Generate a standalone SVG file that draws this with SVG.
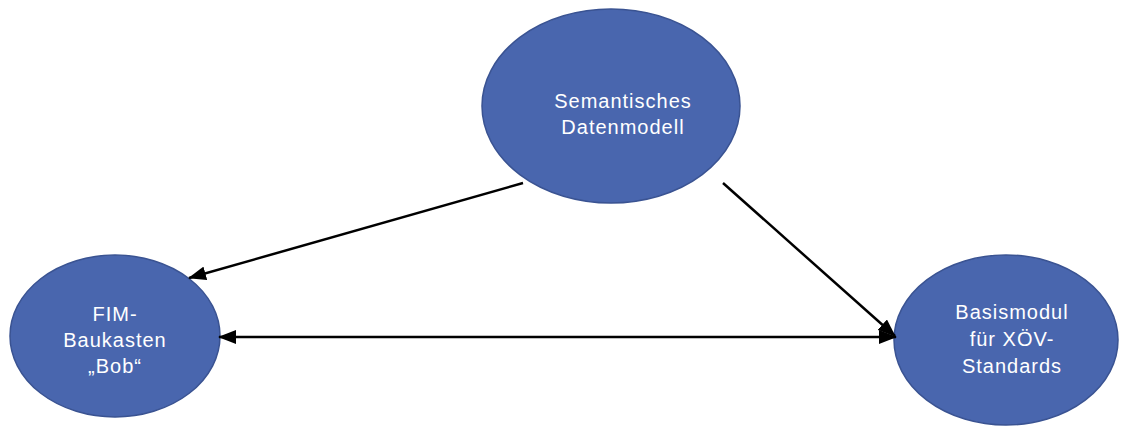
<svg xmlns="http://www.w3.org/2000/svg" width="1122" height="426" viewBox="0 0 1122 426">
<style>
.node{fill:#4966AE;stroke:#3A5392;stroke-width:1.5}
.lbl{font-family:"Liberation Sans",Arial,sans-serif;font-size:20px;letter-spacing:1px;fill:#ffffff;text-anchor:middle}
.edge{stroke:#000;stroke-width:2.5;fill:none}
</style>
<defs>
<marker id="ah" markerUnits="userSpaceOnUse" markerWidth="18" markerHeight="14" refX="17" refY="7" orient="auto-start-reverse">
<path d="M0,0 L18,7 L0,14 Z" fill="#000"/>
</marker>
</defs>
<rect width="1122" height="426" fill="#fff"/>
<g id="n-semantic">
<ellipse class="node" cx="611" cy="106" rx="129" ry="97"/>
<text class="lbl" x="623" y="108">Semantisches</text>
<text class="lbl" x="623" y="134">Datenmodell</text>
</g>
<g id="n-fim">
<ellipse class="node" cx="115" cy="336" rx="105" ry="81"/>
<text class="lbl" x="115" y="321">FIM-</text>
<text class="lbl" x="115" y="347">Baukasten</text>
<text class="lbl" x="115" y="373">„Bob“</text>
</g>
<g id="n-basis">
<ellipse class="node" cx="1006" cy="340" rx="112" ry="85"/>
<text class="lbl" x="1012" y="319">Basismodul</text>
<text class="lbl" x="1012" y="346">für XÖV-</text>
<text class="lbl" x="1012" y="373">Standards</text>
</g>
<g id="connectors">
<line class="edge" x1="523" y1="183" x2="189" y2="278" marker-end="url(#ah)"/>
<line class="edge" x1="723" y1="183" x2="895" y2="336" marker-end="url(#ah)"/>
<line class="edge" x1="219" y1="337" x2="896" y2="337" marker-start="url(#ah)" marker-end="url(#ah)"/>
</g>
</svg>
